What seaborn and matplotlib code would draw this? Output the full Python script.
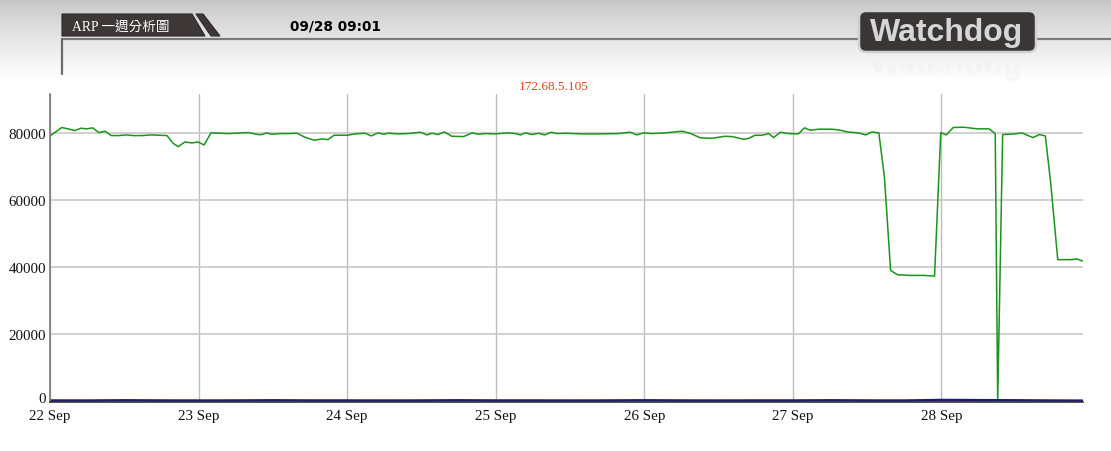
import numpy as np
import pandas as pd
import matplotlib
matplotlib.use("Agg")
import matplotlib.pyplot as plt
from matplotlib.patches import Polygon, FancyBboxPatch
from matplotlib.transforms import ScaledTranslation
import seaborn as sns

# ---------------- data ----------------
green_hours = [0.0, 1.9, 2.9, 4.0, 5.0, 5.9, 6.9, 7.9, 8.9, 9.9, 11.0, 12.4, 13.4, 14.8, 16.4, 18.9,
               19.9, 20.7, 21.8, 22.9, 23.9, 24.9, 26.0, 28.8, 32.0, 33.6, 34.2, 35.0, 35.8, 37.2,
               38.5, 39.9, 41.2, 42.7, 43.9, 44.9, 45.9, 48.0, 49.3, 50.9, 51.9, 53.0, 53.9, 54.7,
               56.3, 57.9, 59.8, 60.9, 61.7, 62.7, 63.7, 64.9, 66.8, 68.2, 69.2, 70.3, 71.9, 74.1,
               75.2, 76.0, 76.8, 77.9, 78.9, 79.9, 81.0, 81.9, 83.2, 85.9, 88.6, 91.8, 93.7, 94.8,
               95.9, 97.2, 99.4, 101.5, 102.1, 103.4, 105.1, 106.9, 109.1, 110.2, 112.1, 112.9,
               113.9, 115.0, 116.1, 116.9, 118.0, 119.3, 120.9, 121.9, 122.8, 124.2, 126.3, 127.4,
               128.8, 130.6, 131.8, 132.8, 133.9, 134.8, 135.8, 136.9, 139.0, 141.1, 142.9, 143.9,
               144.8, 145.9, 147.6, 149.8, 151.7, 152.7, 153.1, 153.9, 155.9, 157.0, 158.8, 159.8,
               160.8, 161.7, 162.8, 164.8, 165.9, 166.8]
green_values = [79000, 81500, 81100, 80600, 81300, 81100, 81400, 80000, 80400, 79100, 79100, 79300,
                79100, 79100, 79300, 79100, 76800, 75800, 77200, 76900, 77200, 76300, 79900, 79700,
                80000, 79400, 79400, 79900, 79500, 79700, 79700, 79800, 78600, 77700, 78100, 77900,
                79200, 79200, 79600, 79800, 79000, 79900, 79500, 79800, 79600, 79700, 80100, 79300,
                79800, 79400, 80200, 78900, 78800, 79900, 79500, 79700, 79600, 79900, 79700, 79300,
                79900, 79400, 79800, 79300, 80100, 79700, 79800, 79600, 79600, 79700, 80100, 79300,
                79900, 79700, 79900, 80300, 80400, 79800, 78400, 78300, 78900, 78800, 78000, 78300,
                79200, 79200, 79700, 78500, 80100, 79700, 79600, 81400, 80700, 81000, 81000, 80800,
                80200, 79900, 79300, 80200, 79900, 66800, 38900, 37600, 37400, 37400, 37200, 80000,
                79300, 81500, 81600, 81100, 81100, 79700, 100, 79400, 79600, 79900, 78500, 79400,
                79000, 64300, 42100, 42100, 42300, 41700]

blue_hours = [0, 6, 12, 18, 24, 30, 36, 42, 48, 54, 60, 66, 72, 78, 84, 90, 96, 102, 108, 114,
              120, 126, 132, 138, 144, 150, 156, 162, 166.8]
blue_values = [100, 80, 150, 100, 80, 100, 150, 100, 100, 80, 100, 150, 100, 100, 80, 100,
               150, 100, 80, 100, 100, 150, 100, 80, 250, 200, 150, 80, 50]

day_labels = ["22 Sep", "23 Sep", "24 Sep", "25 Sep", "26 Sep", "27 Sep", "28 Sep"]
y_ticks = [0, 20000, 40000, 60000, 80000]
title_text = "172.68.5.105"
tab_text = "ARP 一週分析圖"
stamp_text = "09/28 09:01"
logo_text = "Watchdog"

start = pd.Timestamp("2023-09-22 00:00")
df_g = pd.DataFrame({"time": start + pd.to_timedelta(green_hours, unit="h"), "value": green_values})
df_b = pd.DataFrame({"time": start + pd.to_timedelta(blue_hours, unit="h"), "value": blue_values})

# ---------------- figure ----------------
sns.set_style("white")
plt.rcParams["font.family"] = ["Liberation Serif", "Noto Sans CJK TC", "DejaVu Sans"]

W, H = 1111, 452
fig = plt.figure(figsize=(W / 100, H / 100), dpi=100)
fig.patch.set_facecolor("white")

# background / header layer in pixel coordinates
bg = fig.add_axes([0, 0, 1, 1], zorder=0)
bg.set_xlim(0, W)
bg.set_ylim(H, 0)
bg.axis("off")
n = 200
cols = np.empty((n, 1, 3))
c_top, c_bot = np.array([0.77, 0.77, 0.77]), np.array([1.0, 1.0, 1.0])
for i in range(n):
    t = i / (n - 1)
    cols[i, 0] = c_top + (c_bot - c_top) * t ** 0.8
bg.imshow(cols, extent=[0, W, 82, 0], aspect="auto", zorder=0)

# header line and box edge
bg.plot([62, W], [40, 40], color="#7a7a7a", lw=1.6, zorder=1)
bg.plot([62, 62], [40, 75], color="#6a6a6a", lw=1.6, zorder=1)

# tab
bg.add_patch(Polygon([[62, 15], [192, 15], [205, 37], [62, 37]], closed=True,
                     facecolor="#3d3737", edgecolor="#2a2a2a", lw=0.8, zorder=2))
bg.add_patch(Polygon([[196, 15], [203, 15], [220, 37], [211, 37]], closed=True,
                     facecolor="#3d3737", edgecolor="#2a2a2a", lw=0.8, zorder=2))
bg.text(72, 27, tab_text, color="white", fontsize=9.8, va="center", ha="left", zorder=3,
        family=["Liberation Serif", "Noto Sans CJK TC"])
bg.text(290, 27, stamp_text, color="black", fontsize=9.8, fontweight="bold", va="center",
        ha="left", family=["DejaVu Sans"], zorder=3)

# logo
bg.add_patch(FancyBboxPatch((859, 12), 177, 41, boxstyle="round,pad=0,rounding_size=7",
                            facecolor="#3a3636", edgecolor="#d0d0d0", lw=1.8, zorder=2))
bg.text(947, 33, logo_text, color="#d6d6d6", fontsize=23, fontweight="bold", va="center",
        ha="center", family=["Liberation Sans"], zorder=3)
bg.text(947, 66, logo_text, color="#f2f2f2", fontsize=23, fontweight="bold", va="center",
        ha="center", family=["Liberation Sans"], zorder=1, alpha=0.5)

# title
bg.text(554, 87, title_text, color="#e8401c", fontsize=9.5, va="center", ha="center",
        family=["Liberation Serif"], zorder=3)

# ---------------- main chart ----------------
left_px, right_px, top_px, bottom_px = 50, 1082.5, 95, 403
ax = fig.add_axes([left_px / W, 1 - bottom_px / H, (right_px - left_px) / W,
                   (bottom_px - top_px) / H], zorder=2)
ax.set_facecolor("none")

sns.lineplot(data=df_g, x="time", y="value", color="#1a941a", linewidth=1.1, ax=ax)
sns.lineplot(data=df_b, x="time", y="value", color="#1c1c78", linewidth=1.8, ax=ax)

ax.set_xlim(start, start + pd.Timedelta(hours=166.8))
ax.set_ylim(-350, 91500)
ax.set_yticks(y_ticks)
ax.set_yticklabels([str(v) for v in y_ticks])
day_ticks = [start + pd.Timedelta(days=i) for i in range(len(day_labels))]
ax.set_xticks(day_ticks)
ax.set_xticklabels(day_labels)
ax.set_xlabel("")
ax.set_ylabel("")

ax.grid(True, axis="y", color="#c8c8c8", lw=1.2)
ax.grid(True, axis="x", color="#bdbdbd", lw=1.0)
ax.set_axisbelow(True)
ax.tick_params(axis="both", length=0, labelsize=10.8, colors="#111111")
ax.tick_params(axis="y", pad=3)
ax.tick_params(axis="x", pad=5)
for s in ["top", "right"]:
    ax.spines[s].set_visible(False)
ax.spines["left"].set_color("#7a7a7a")
ax.spines["left"].set_linewidth(1.2)
ax.spines["bottom"].set_color("#333333")
ax.spines["bottom"].set_linewidth(1.2)

# lift the "0" label a little above the axis line, as in the reference
fig.canvas.draw()
zero_lbl = ax.get_yticklabels()[0]
zero_lbl.set_transform(zero_lbl.get_transform() + ScaledTranslation(0, 4 / 100, fig.dpi_scale_trans))

fig.savefig("out.png", dpi=100)
